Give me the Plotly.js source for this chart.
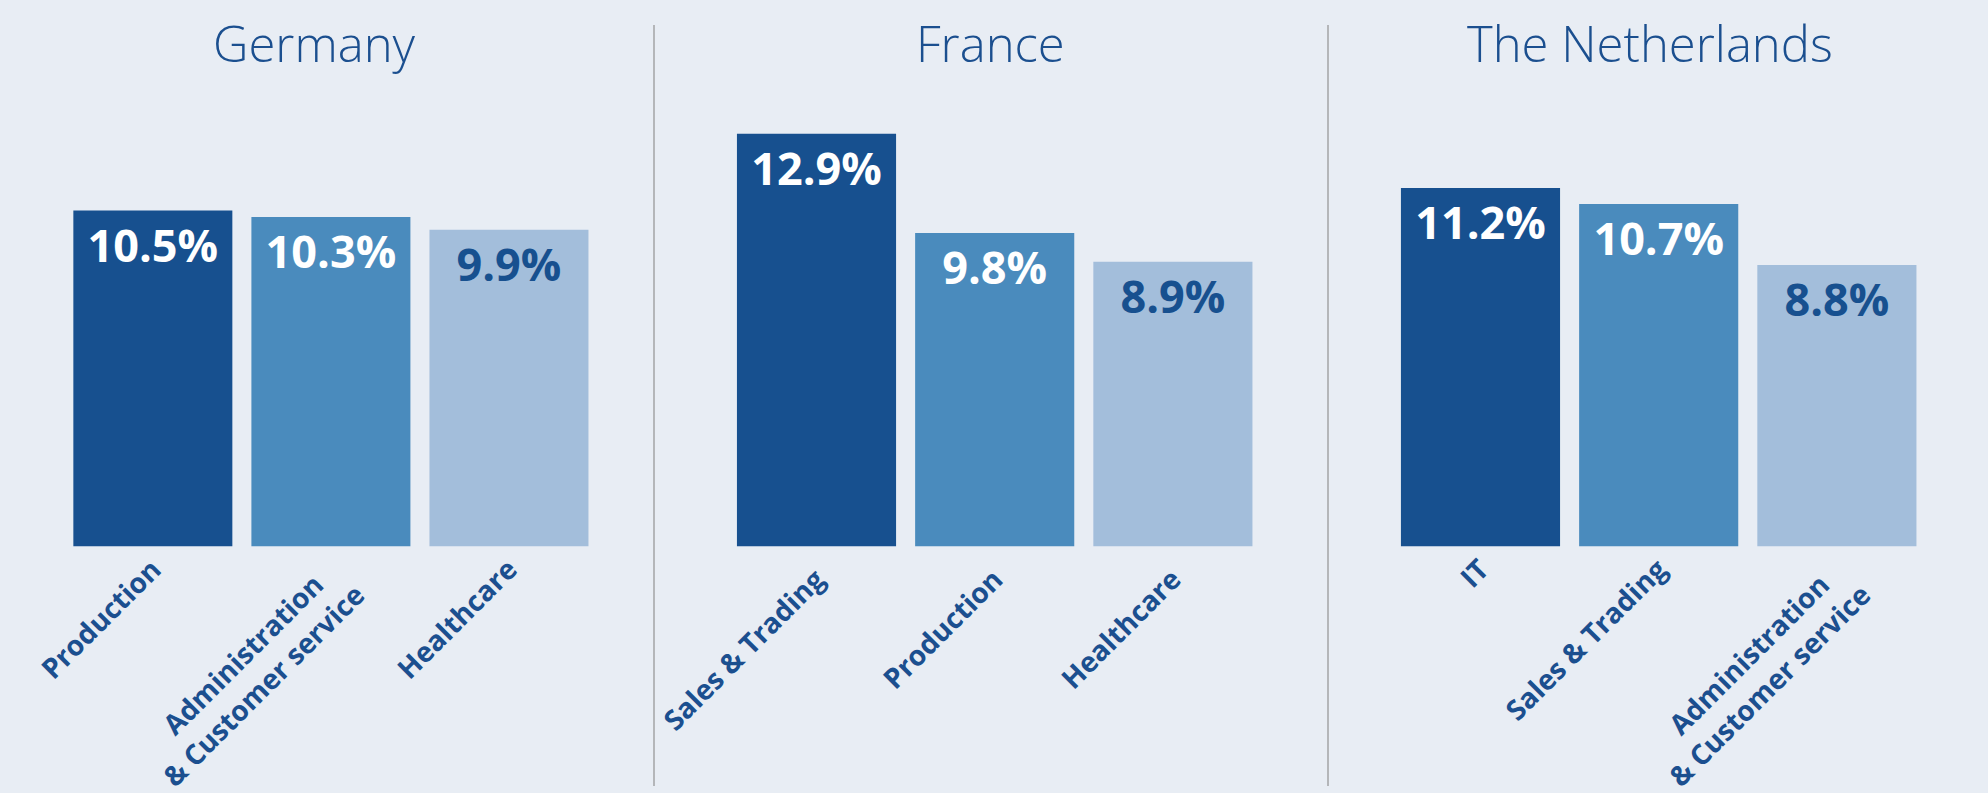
<!DOCTYPE html>
<html>
<head>
<meta charset="utf-8">
<script src="https://cdn.plot.ly/plotly-3.0.1.min.js"></script>
<style>html,body{margin:0;padding:0;background:#e8edf4;}#chart{width:1988px;height:793px;}</style>
</head>
<body>
<div id="chart"></div>
<script>
const countries = ['Germany', 'France', 'The Netherlands'];
const germanyCats = ['Production', 'Administration\u00A0\u00A0\u00A0<br>& Customer service', 'Healthcare'];
const germanyVals = [10.5, 10.3, 9.9];
const franceCats = ['Sales & Trading', 'Production', 'Healthcare'];
const franceVals = [12.9, 9.8, 8.9];
const nlCats = ['IT', 'Sales & Trading', 'Administration\u00A0\u00A0\u00A0<br>& Customer service'];
const nlVals = [11.2, 10.7, 8.8];

const barColors = ['#17508f', '#4a8bbd', '#a3bedb'];
const textColors = ['#ffffff', '#ffffff', '#17508f'];
const titleColor = '#1b4f8f';
const bg = '#e8edf4';

const groups = [
  {cats: germanyCats, vals: germanyVals, dom: [0.0321, 0.3008], titleX: 314, standoff: 0},
  {cats: franceCats, vals: franceVals, dom: [0.3659, 0.6348], titleX: 990, standoff: 10},
  {cats: nlCats, vals: nlVals, dom: [0.6999, 0.9688], titleX: 1650, standoff: 0}
];

const traces = groups.map((g, i) => ({
  type: 'bar',
  x: g.cats,
  y: g.vals,
  xaxis: i === 0 ? 'x' : 'x' + (i + 1),
  yaxis: i === 0 ? 'y' : 'y' + (i + 1),
  marker: {color: barColors, line: {width: 0}},
  text: g.vals.map(v => v.toFixed(1) + '%'),
  textposition: 'inside',
  insidetextanchor: 'end',
  textangle: 0,
  constraintext: 'none',
  textfont: {family: 'Open Sans', size: 45, weight: 700, color: textColors},
  hoverinfo: 'none'
}));

const layout = {
  width: 1988, height: 793,
  margin: {l: 0, r: 0, t: 0, b: 0},
  paper_bgcolor: bg, plot_bgcolor: bg,
  showlegend: false,
  bargap: 0.107,
  annotations: [],
  shapes: [
    {type: 'line', xref: 'paper', yref: 'paper', x0: 654/1988, x1: 654/1988, y0: 1 - 25/793, y1: 1 - 786/793, line: {color: '#b4b6b9', width: 2}},
    {type: 'line', xref: 'paper', yref: 'paper', x0: 1328/1988, x1: 1328/1988, y0: 1 - 25/793, y1: 1 - 786/793, line: {color: '#b4b6b9', width: 2}}
  ]
};

groups.forEach((g, i) => {
  const sx = i === 0 ? '' : String(i + 1);
  layout['xaxis' + sx] = {
    domain: g.dom, anchor: 'y' + sx,
    type: 'category',
    tickangle: -45,
    ticklabelstandoff: g.standoff,
    tickfont: {family: 'Open Sans', size: 28, weight: 700, color: titleColor},
    showgrid: false, zeroline: false, showline: false, ticks: '',
    fixedrange: true
  };
  layout['yaxis' + sx] = {
    domain: [1 - 546.5/793, 1 - 98.5/793],
    range: [0, 14], anchor: 'x' + sx,
    visible: false, showgrid: false, zeroline: false, fixedrange: true
  };
  layout.annotations.push({
    text: countries[i], xref: 'paper', yref: 'paper',
    x: g.titleX / 1988, y: 1 - 78/793, xanchor: 'center', yanchor: 'bottom',
    showarrow: false,
    font: {family: 'Open Sans', size: 49, weight: 300, color: titleColor}
  });
});

Plotly.newPlot('chart', traces, layout, {displayModeBar: false, staticPlot: true});
</script>
</body>
</html>
